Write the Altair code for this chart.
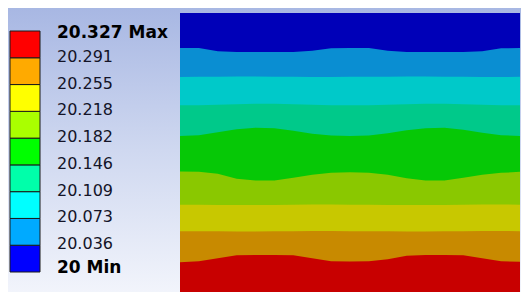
import altair as alt
import pandas as pd

W, H = 513, 284

# ---- contour data (model units: x 0..342 across, depth 0..281 from top) ----
x_pos = [0, 19, 38, 57, 76, 95, 114, 133, 152, 171, 190, 209, 228, 247, 266, 285, 304, 323, 342]
b_top = [0] * 19
b1 = [35.3, 35.3, 38.5, 39.3, 39.3, 39.3, 39.3, 38, 35.5, 35.3, 35.3, 38, 39.3, 39.3, 39.3, 39.3, 38.5, 35.5, 35.3]
b2 = [64.5, 64.3, 64.3, 64, 64, 64.2, 64.3, 64.5, 64.5, 64.3, 64.3, 64.2, 64, 64, 64.2, 64.3, 64.5, 64.5, 64.3]
b3 = [93, 93, 92.5, 92, 91.5, 91.5, 92, 92.5, 93, 93, 93, 92.5, 92, 91.5, 91.5, 92, 92.5, 93, 93]
b4 = [124, 123, 120, 117, 115.5, 116, 118.5, 121.5, 123.5, 124, 123.5, 121, 118, 116, 115.5, 117.5, 120.5, 123, 124]
b5 = [159.7, 160, 162, 167, 168.7, 168.7, 166, 163, 161, 160.5, 161, 163, 166.5, 168.7, 168.7, 166, 163, 161, 160]
b6 = [193, 193, 193.3, 193.5, 193.5, 193.3, 193, 192.8, 192.8, 193, 193, 193.3, 193.5, 193.5, 193.3, 193, 192.8, 192.8, 193]
b7 = [219.7, 219.7, 219.8, 220, 220, 219.8, 219.7, 219.6, 219.6, 219.7, 219.7, 219.8, 220, 220, 219.8, 219.7, 219.6, 219.6, 219.7]
b8 = [251, 250, 247, 244, 243.7, 243.7, 244, 247, 250, 250.3, 250, 248, 244.5, 243.7, 243.7, 244, 247, 250, 250.5]
b_bottom_value = 281
boundaries = [b_top, b1, b2, b3, b4, b5, b6, b7, b8]

band_colors = ["#0000b8", "#0a8ed2", "#00c9c9", "#00c98a", "#06c806",
               "#8ac800", "#c8c800", "#c88a00", "#c80000"]

# ---- legend data ----
legend_values = ["20 Min", "20.036", "20.073", "20.109", "20.146",
                 "20.182", "20.218", "20.255", "20.291", "20.327 Max"]
legend_colors = ["#0000ff", "#00aaff", "#00ffff", "#00ffaa", "#00ff00",
                 "#aaff00", "#ffff00", "#ffaa00", "#ff0000"]

# background
bg = alt.Chart(pd.DataFrame({"a": [0]})).mark_rect(
    color=alt.Gradient(
        gradient="linear",
        stops=[alt.GradientStop(color="#a5b5e2", offset=0),
               alt.GradientStop(color="#cfd8f0", offset=0.5),
               alt.GradientStop(color="#f4f6fc", offset=1)],
        x1=0, x2=0, y1=0, y2=1)
).encode(x=alt.value(-10), x2=alt.value(W + 10), y=alt.value(-10), y2=alt.value(H + 10))

xs = alt.Scale(domain=[0, 342], range=[172, 512], nice=False, zero=False)
ys = alt.Scale(domain=[0, 281], range=[5, 284], nice=False, zero=False)

layers = []
for k, (bnd, col) in enumerate(zip(boundaries, band_colors)):
    df = pd.DataFrame({"x": x_pos, "top": bnd, "bot": [b_bottom_value] * len(x_pos)})
    layers.append(
        alt.Chart(df).mark_area(color=col, interpolate="linear").encode(
            x=alt.X("x:Q", scale=xs, axis=None),
            y=alt.Y("top:Q", scale=ys, axis=None, stack=None),
            y2="bot:Q",
        )
    )
contour = alt.layer(*layers)

# legend
ly = alt.Scale(domain=[0, 9], range=[264, 23], nice=False, zero=False)
box_df = pd.DataFrame({
    "lo": list(range(9)), "hi": list(range(1, 10)),
    "c": legend_colors,
})
boxes = alt.Chart(box_df).mark_rect(stroke="#1a1a1a", strokeWidth=1).encode(
    x=alt.value(2), x2=alt.value(32),
    y=alt.Y("lo:Q", scale=ly, axis=None), y2="hi:Q",
    color=alt.Color("c:N", scale=None, legend=None),
)
lab_df = pd.DataFrame({"i": list(range(10)), "t": legend_values})
mid_labels = alt.Chart(lab_df).transform_filter("datum.i > 0 && datum.i < 9").mark_text(
    align="left", baseline="middle", font="DejaVu Sans", fontSize=16, color="#141428", dy=-1
).encode(x=alt.value(49), y=alt.Y("i:Q", scale=ly, axis=None), text="t:N")
max_label = alt.Chart(lab_df).transform_filter("datum.i == 9").mark_text(
    align="left", baseline="middle", font="DejaVu Sans", fontSize=17, fontWeight="bold",
    color="#000000", dy=2
).encode(x=alt.value(49), y=alt.Y("i:Q", scale=ly, axis=None), text="t:N")
min_label = alt.Chart(lab_df).transform_filter("datum.i == 0").mark_text(
    align="left", baseline="middle", font="DejaVu Sans", fontSize=17, fontWeight="bold",
    color="#000000", dy=-4
).encode(x=alt.value(49), y=alt.Y("i:Q", scale=ly, axis=None), text="t:N")
legend = alt.layer(boxes, mid_labels, max_label, min_label)

chart = alt.layer(bg, contour, legend).resolve_scale(
    x="independent", y="independent", color="independent"
).properties(
    width=W, height=H, padding=0, autosize=alt.AutoSizeParams(type="none")
).configure_view(stroke=None)

chart.save("out.html", embed_options={"renderer": "svg", "actions": False})
